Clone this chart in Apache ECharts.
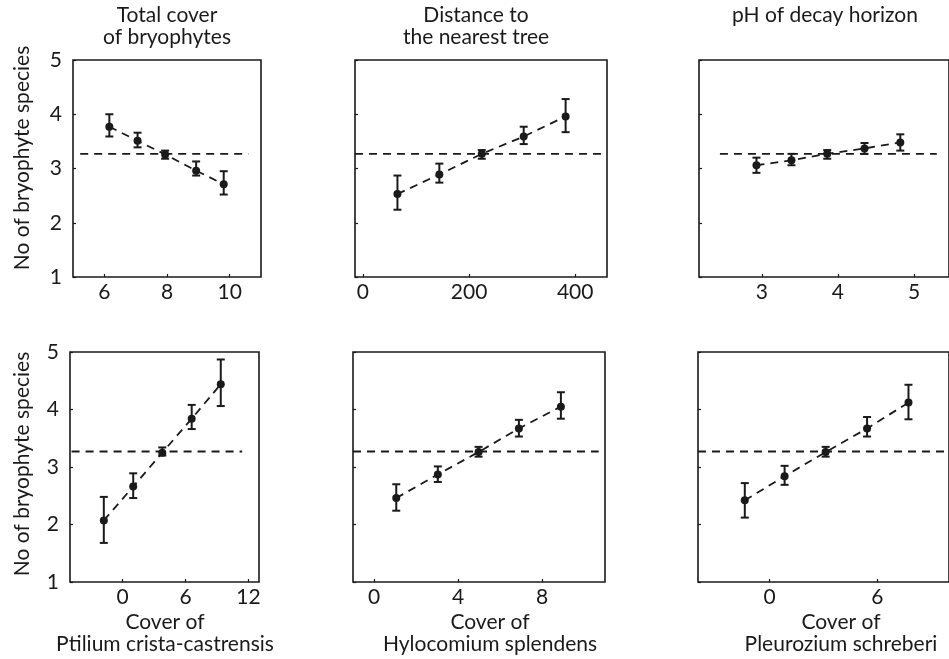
<!DOCTYPE html>
<html>
<head>
<meta charset="utf-8">
<script src="https://cdn.jsdelivr.net/npm/echarts@6/dist/echarts.min.js"></script>
<style>
  html, body { margin: 0; padding: 0; background: #fff; }
  #chart { width: 949px; height: 659px; }
</style>
</head>
<body>
<div id="chart"></div>
<script>
// values: mean +/- error bar for each class
const meanLevel = 3.27;

const p1X = [6.16, 7.06, 7.94, 8.93, 9.81];
const p1Y = [3.77, 3.51, 3.26, 2.96, 2.71];
const p1Lo = [3.59, 3.39, 3.18, 2.87, 2.52];
const p1Hi = [4.00, 3.66, 3.33, 3.13, 2.95];

const p2X = [65, 144, 224, 303, 382];
const p2Y = [2.53, 2.89, 3.27, 3.59, 3.96];
const p2Lo = [2.24, 2.74, 3.18, 3.45, 3.67];
const p2Hi = [2.87, 3.09, 3.34, 3.77, 4.28];

const p3X = [2.93, 3.39, 3.86, 4.35, 4.82];
const p3Y = [3.06, 3.15, 3.27, 3.37, 3.48];
const p3Lo = [2.92, 3.06, 3.18, 3.27, 3.33];
const p3Hi = [3.20, 3.27, 3.34, 3.47, 3.63];

const p4X = [-1.78, 1.02, 3.79, 6.59, 9.36];
const p4Y = [2.07, 2.66, 3.25, 3.84, 4.44];
const p4Lo = [1.68, 2.46, 3.20, 3.66, 4.06];
const p4Hi = [2.48, 2.89, 3.34, 4.08, 4.87];

const p5X = [1.06, 3.04, 4.98, 6.90, 8.90];
const p5Y = [2.46, 2.87, 3.26, 3.67, 4.05];
const p5Lo = [2.24, 2.74, 3.18, 3.53, 3.84];
const p5Hi = [2.70, 3.01, 3.35, 3.82, 4.30];

const p6X = [-1.39, 0.83, 3.12, 5.43, 7.74];
const p6Y = [2.42, 2.84, 3.26, 3.67, 4.12];
const p6Lo = [2.12, 2.69, 3.18, 3.53, 3.83];
const p6Hi = [2.72, 3.02, 3.35, 3.87, 4.43];

const xTicks1 = [6, 8, 10];
const xTicks2 = [0, 200, 400];
const xTicks3 = [3, 4, 5];
const xTicks4 = [0, 6, 12];
const xTicks5 = [0, 4, 8];
const xTicks6 = [0, 6];

const topTitles = ['Total cover\nof bryophytes', 'Distance to\nthe nearest tree', 'pH of decay horizon'];
const bottomNames = ['Cover of\nPtilium crista-castrensis', 'Cover of\nHylocomium splendens', 'Cover of\nPleurozium schreberi'];
const yName = 'No of bryophyte species';

const ink = '#1a1a1a';
const font = 'Lato, "DejaVu Sans", sans-serif';

// layout of each panel: box, x range, extent of the overall-mean line
const panels = [
  { x: p1X, y: p1Y, lo: p1Lo, hi: p1Hi, ticks: xTicks1, min: 5, max: 11, ref: [5.23, 10.6],
    grid: { left: 73, top: 60, width: 188, height: 217 } },
  { x: p2X, y: p2Y, lo: p2Lo, hi: p2Hi, ticks: xTicks2, min: -15, max: 460, ref: [-15, 460],
    grid: { left: 355, top: 60, width: 252, height: 217 } },
  { x: p3X, y: p3Y, lo: p3Lo, hi: p3Hi, ticks: xTicks3, min: 2.175, max: 5.46, ref: [2.45, 5.3],
    grid: { left: 699, top: 60, width: 252, height: 217 } },
  { x: p4X, y: p4Y, lo: p4Lo, hi: p4Hi, ticks: xTicks4, min: -5, max: 13, ref: [-4.85, 11.4],
    grid: { left: 70, top: 352, width: 189, height: 230 } },
  { x: p5X, y: p5Y, lo: p5Lo, hi: p5Hi, ticks: xTicks5, min: -1, max: 11, ref: [-1, 10.7],
    grid: { left: 353, top: 352, width: 252, height: 230 } },
  { x: p6X, y: p6Y, lo: p6Lo, hi: p6Hi, ticks: xTicks6, min: -4, max: 10, ref: [-4, 10],
    grid: { left: 698, top: 352, width: 254, height: 230 } }
];

function errorBar(params, api) {
  const top = api.coord([api.value(0), api.value(2)]);
  const bot = api.coord([api.value(0), api.value(1)]);
  const cap = 4;
  const style = { stroke: ink, lineWidth: 2 };
  return {
    type: 'group',
    children: [
      { type: 'line', shape: { x1: top[0], y1: top[1], x2: bot[0], y2: bot[1] }, style: style },
      { type: 'line', shape: { x1: top[0] - cap, y1: top[1], x2: top[0] + cap, y2: top[1] }, style: style },
      { type: 'line', shape: { x1: bot[0] - cap, y1: bot[1], x2: bot[0] + cap, y2: bot[1] }, style: style }
    ]
  };
}

const grid = [], xAxis = [], yAxis = [], series = [];

panels.forEach((p, i) => {
  grid.push(Object.assign({ show: true, borderColor: ink, borderWidth: 1.6, backgroundColor: 'transparent' }, p.grid));
  xAxis.push({
    gridIndex: i, type: 'value', min: p.min, max: p.max,
    splitLine: { show: false },
    axisLine: { show: false, onZero: false },
    axisTick: { show: true, inside: true, length: 3, customValues: p.ticks, lineStyle: { color: ink, width: 1.2 } },
    axisLabel: { customValues: p.ticks, color: ink, fontSize: 21, fontFamily: font, margin: 5 }
  });
  yAxis.push({
    gridIndex: i, type: 'value', min: 1, max: 5, interval: 1,
    splitLine: { show: false },
    axisLine: { show: false, onZero: false },
    axisTick: { show: true, inside: true, length: 3, lineStyle: { color: ink, width: 1.2 } },
    axisLabel: { show: i % 3 === 0, color: ink, fontSize: 21, fontFamily: font, margin: 11 }
  });
  series.push({
    type: 'line', xAxisIndex: i, yAxisIndex: i, silent: true,
    symbol: 'none',
    lineStyle: { color: ink, width: 1.8, type: [8, 6] },
    data: p.ref.map(v => [v, meanLevel])
  });
  series.push({
    type: 'custom', xAxisIndex: i, yAxisIndex: i, silent: true,
    renderItem: errorBar,
    encode: { x: 0, y: [1, 2] },
    data: p.x.map((v, k) => [v, p.lo[k], p.hi[k]])
  });
  series.push({
    type: 'line', xAxisIndex: i, yAxisIndex: i, silent: true,
    symbol: 'circle', symbolSize: 8,
    itemStyle: { color: ink },
    lineStyle: { color: ink, width: 1.8, type: [8, 6] },
    data: p.x.map((v, k) => [v, p.y[k]])
  });
});

function label(text, x, y, rotation) {
  return {
    type: 'text', x: x, y: y, rotation: rotation || 0,
    style: { text: text, fill: ink, font: '21px ' + font, align: 'center', verticalAlign: 'middle', lineHeight: 22 }
  };
}

const graphic = [
  label(topTitles[0], 167, 26),
  label(topTitles[1], 476, 26),
  label(topTitles[2], 825, 15),
  label(bottomNames[0], 165, 633),
  label(bottomNames[1], 490, 633),
  label(bottomNames[2], 841, 633),
  label(yName, 22, 158, Math.PI / 2),
  label(yName, 22, 464, Math.PI / 2)
];

const chart = echarts.init(document.getElementById('chart'), null, { renderer: 'canvas' });
chart.setOption({
  animation: false,
  backgroundColor: '#fff',
  grid: grid,
  xAxis: xAxis,
  yAxis: yAxis,
  series: series,
  graphic: graphic
});
</script>
</body>
</html>
